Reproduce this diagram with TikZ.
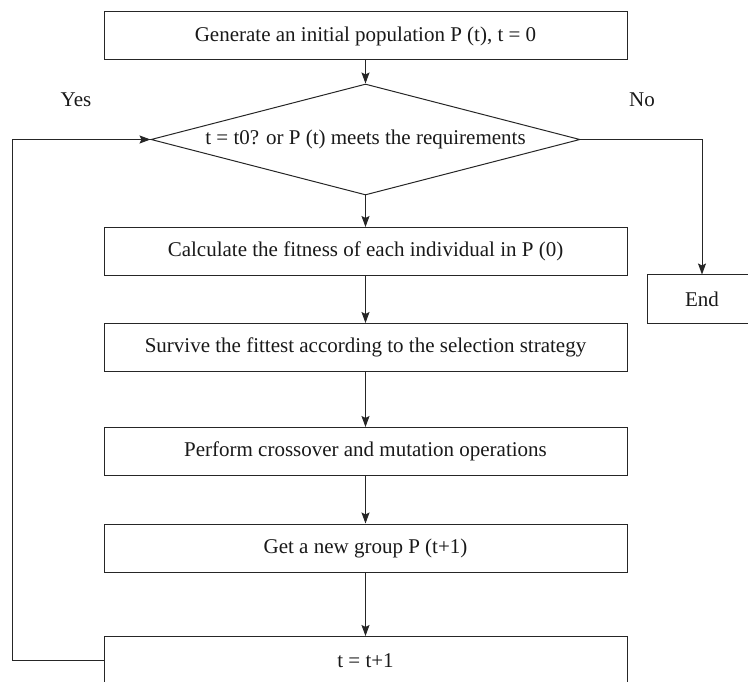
\documentclass[tikz,border=0pt]{standalone}
\usepackage{fontspec}
\setmainfont{Liberation Serif}
\usetikzlibrary{shapes.geometric,arrows.meta}
\begin{document}
\begin{tikzpicture}[x=1pt,y=-1pt,
  line width=1pt,
  every node/.style={font=\fontsize{21}{25}\selectfont, text=black!90},
  procbox/.style={draw=black!85, rectangle, minimum width=523pt, minimum height=48pt, inner sep=0pt},
  decbox/.style={draw=black!85, diamond, aspect=3.9, minimum width=429pt, minimum height=111pt, inner sep=0pt},
  flow/.style={draw=black!85, -{Stealth[length=11pt,width=8pt,inset=2pt]}}]
\useasboundingbox (0,0) rectangle (748,682);
\node[procbox] (init) at (365.5,36) {Generate an initial population P (t), t = 0};
\node[decbox] (dec) at (365.5,139.5) {t = t0? or P (t) meets the requirements};
\node[procbox] (calc) at (365.5,251.5) {Calculate the fitness of each individual in P (0)};
\node[procbox] (surv) at (365.5,347.5) {Survive the fittest according to the selection strategy};
\node[procbox] (perf) at (365.5,451.5) {Perform crossover and mutation operations};
\node[procbox] (grp) at (365.5,548) {Get a new group P (t+1)};
\node[procbox] (inc) at (365.5,660.5) {t = t+1};
\node[draw=black!85, rectangle, minimum width=110pt, minimum height=48pt, inner sep=0pt] (endb) at (702,299) {End};
\node (yes) at (76,100) {Yes};
\node (no) at (642,100) {No};
\coordinate (lb) at (12,660.5);
\coordinate (lt) at (12,139.5);
\coordinate (rt) at (702,139.5);
\draw[flow] (init.south) -- (dec.north);
\draw[flow] (dec.south) -- (calc.north);
\draw[flow] (calc.south) -- (surv.north);
\draw[flow] (surv.south) -- (perf.north);
\draw[flow] (perf.south) -- (grp.north);
\draw[flow] (grp.south) -- (inc.north);
\draw[flow] (inc.west) -- (lb) -- (lt) -- (dec.west);
\draw[flow] (dec.east) -- (rt) -- (endb.north);
\end{tikzpicture}
\end{document}
